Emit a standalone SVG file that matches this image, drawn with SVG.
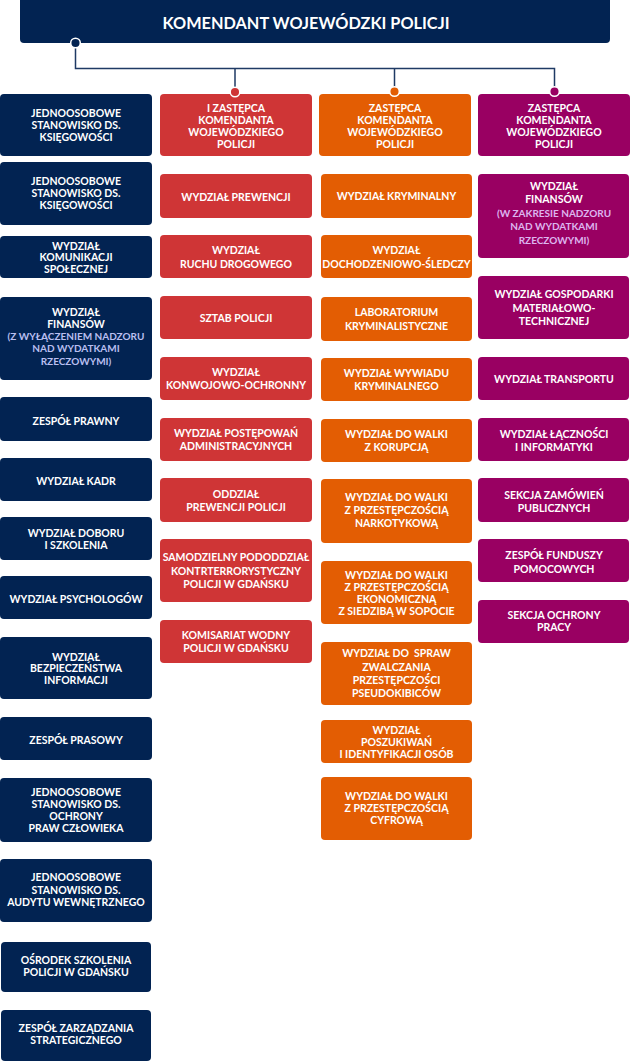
<svg xmlns="http://www.w3.org/2000/svg" width="630" height="1061" viewBox="0 0 630 1061">
<style>
text{font-family:Lato,"Open Sans","Liberation Sans",sans-serif;font-weight:bold;fill:#ffffff;text-anchor:middle;font-size:10.5px}
.title{font-size:16.3px}
.nv{fill:#022352}
.rd{fill:#cf3536}
.or{fill:#e35d03}
.pu{fill:#990062}
.ln{fill:#b9bff0;font-size:10px}
.lp{fill:#ddb5ef;font-size:10px}
.conn{fill:none;stroke:#1f3a64;stroke-width:1.5}
.dot{stroke:#ffffff;stroke-width:1.5}
</style>
<g id="top"><rect class="nv" x="20" y="-5" width="590" height="48" rx="4"/><text class="title" x="306" y="28.5">KOMENDANT WOJEWÓDZKI POLICJI</text></g>
<!-- column 1 -->
<g id="c1-1"><rect class="nv" x="0" y="94" width="152" height="62" rx="4"/><text><tspan x="76" y="116.8">JEDNOOSOBOWE</tspan><tspan x="76" y="128.8">STANOWISKO DS.</tspan><tspan x="76" y="140.8">KSIĘGOWOŚCI</tspan></text></g>
<g id="c1-2"><rect class="nv" x="0" y="162" width="152" height="63" rx="4"/><text><tspan x="76" y="184.8">JEDNOOSOBOWE</tspan><tspan x="76" y="196.8">STANOWISKO DS.</tspan><tspan x="76" y="208.8">KSIĘGOWOŚCI</tspan></text></g>
<g id="c1-3"><rect class="nv" x="0" y="236" width="152" height="42" rx="4"/><text><tspan x="76" y="249.5">WYDZIAŁ</tspan><tspan x="76" y="261.3">KOMUNIKACJI</tspan><tspan x="76" y="273">SPOŁECZNEJ</tspan></text></g>
<g id="c1-4"><rect class="nv" x="0" y="297" width="152" height="83" rx="4"/><text><tspan x="76" y="316">WYDZIAŁ</tspan><tspan x="76" y="328">FINANSÓW</tspan></text><text class="ln"><tspan x="76" y="340">(Z WYŁĄCZENIEM NADZORU</tspan><tspan x="76" y="352">NAD WYDATKAMI</tspan><tspan x="76" y="364.5">RZECZOWYMI)</tspan></text></g>
<g id="c1-5"><rect class="nv" x="0" y="397" width="152" height="44" rx="4"/><text x="76" y="424.5">ZESPÓŁ PRAWNY</text></g>
<g id="c1-6"><rect class="nv" x="0" y="458" width="152" height="43" rx="4"/><text x="76" y="484.8">WYDZIAŁ KADR</text></g>
<g id="c1-7"><rect class="nv" x="0" y="517" width="152" height="43" rx="4"/><text><tspan x="76" y="536.5">WYDZIAŁ DOBORU</tspan><tspan x="76" y="548.5">I SZKOLENIA</tspan></text></g>
<g id="c1-8"><rect class="nv" x="0" y="576" width="152" height="43" rx="4"/><text x="76" y="602.5">WYDZIAŁ PSYCHOLOGÓW</text></g>
<g id="c1-9"><rect class="nv" x="0" y="637" width="152" height="62" rx="4"/><text><tspan x="76" y="660.5">WYDZIAŁ</tspan><tspan x="76" y="672.3">BEZPIECZEŃSTWA</tspan><tspan x="76" y="684">INFORMACJI</tspan></text></g>
<g id="c1-10"><rect class="nv" x="0" y="717" width="152" height="43" rx="4"/><text x="76" y="743.8">ZESPÓŁ PRASOWY</text></g>
<g id="c1-11"><rect class="nv" x="0" y="778" width="152" height="64" rx="4"/><text><tspan x="76" y="795.5">JEDNOOSOBOWE</tspan><tspan x="76" y="807.8">STANOWISKO DS.</tspan><tspan x="76" y="819.8">OCHRONY</tspan><tspan x="76" y="832">PRAW CZŁOWIEKA</tspan></text></g>
<g id="c1-12"><rect class="nv" x="0" y="859" width="152" height="63" rx="4"/><text><tspan x="76" y="881">JEDNOOSOBOWE</tspan><tspan x="76" y="893.8">STANOWISKO DS.</tspan><tspan x="76" y="906">AUDYTU WEWNĘTRZNEGO</tspan></text></g>
<g id="c1-13"><rect class="nv" x="1" y="942" width="150" height="50" rx="4"/><text><tspan x="76" y="963.8">OŚRODEK SZKOLENIA</tspan><tspan x="76" y="975.5">POLICJI W GDAŃSKU</tspan></text></g>
<g id="c1-14"><rect class="nv" x="1" y="1010" width="150" height="51" rx="4"/><text><tspan x="76" y="1032">ZESPÓŁ ZARZĄDZANIA</tspan><tspan x="76" y="1043.8">STRATEGICZNEGO</tspan></text></g>
<!-- column 2 -->
<g id="c2-1"><rect class="rd" x="160" y="94" width="152" height="62" rx="4"/><text><tspan x="236" y="112">I ZASTĘPCA</tspan><tspan x="236" y="123.8">KOMENDANTA</tspan><tspan x="236" y="135.5">WOJEWÓDZKIEGO</tspan><tspan x="236" y="147.8">POLICJI</tspan></text></g>
<g id="c2-2"><rect class="rd" x="160" y="174" width="152" height="44" rx="4"/><text x="236" y="200.5">WYDZIAŁ PREWENCJI</text></g>
<g id="c2-3"><rect class="rd" x="160" y="235" width="152" height="43" rx="4"/><text><tspan x="236" y="253.8">WYDZIAŁ</tspan><tspan x="236" y="267.8">RUCHU DROGOWEGO</tspan></text></g>
<g id="c2-4"><rect class="rd" x="160" y="296" width="152" height="43" rx="4"/><text x="236" y="321.5">SZTAB POLICJI</text></g>
<g id="c2-5"><rect class="rd" x="160" y="357" width="152" height="43" rx="4"/><text><tspan x="236" y="375.5">WYDZIAŁ</tspan><tspan x="236" y="388.8">KONWOJOWO-OCHRONNY</tspan></text></g>
<g id="c2-6"><rect class="rd" x="160" y="418" width="152" height="43" rx="4"/><text><tspan x="236" y="436.5">WYDZIAŁ POSTĘPOWAŃ</tspan><tspan x="236" y="449.8">ADMINISTRACYJNYCH</tspan></text></g>
<g id="c2-7"><rect class="rd" x="160" y="478" width="152" height="44" rx="4"/><text><tspan x="236" y="497.8">ODDZIAŁ</tspan><tspan x="236" y="511">PREWENCJI POLICJI</tspan></text></g>
<g id="c2-8"><rect class="rd" x="160" y="539" width="152" height="63" rx="4"/><text><tspan x="236" y="561">SAMODZIELNY PODODDZIAŁ</tspan><tspan x="236" y="574.8">KONTRTERRORYSTYCZNY</tspan><tspan x="236" y="588">POLICJI W GDAŃSKU</tspan></text></g>
<g id="c2-9"><rect class="rd" x="160" y="620" width="152" height="43" rx="4"/><text><tspan x="236" y="638.8">KOMISARIAT WODNY</tspan><tspan x="236" y="652">POLICJI W GDAŃSKU</tspan></text></g>
<!-- column 3 -->
<g id="c3-1"><rect class="or" x="319" y="94" width="152" height="62" rx="4"/><text><tspan x="395" y="112">ZASTĘPCA</tspan><tspan x="395" y="123.8">KOMENDANTA</tspan><tspan x="395" y="135.5">WOJEWÓDZKIEGO</tspan><tspan x="395" y="147.8">POLICJI</tspan></text></g>
<g id="c3-2"><rect class="or" x="321" y="174" width="151" height="44" rx="4"/><text x="396.5" y="199.8">WYDZIAŁ KRYMINALNY</text></g>
<g id="c3-3"><rect class="or" x="321" y="235" width="151" height="43" rx="4"/><text><tspan x="396.5" y="253.8">WYDZIAŁ</tspan><tspan x="396.5" y="267.8">DOCHODZENIOWO-ŚLEDCZY</tspan></text></g>
<g id="c3-4"><rect class="or" x="321" y="297" width="151" height="44" rx="4"/><text><tspan x="396.5" y="316">LABORATORIUM</tspan><tspan x="396.5" y="329.5">KRYMINALISTYCZNE</tspan></text></g>
<g id="c3-5"><rect class="or" x="321" y="358" width="151" height="43" rx="4"/><text><tspan x="396.5" y="376.5">WYDZIAŁ WYWIADU</tspan><tspan x="396.5" y="389.8">KRYMINALNEGO</tspan></text></g>
<g id="c3-6"><rect class="or" x="321" y="419" width="151" height="43" rx="4"/><text><tspan x="396.5" y="437.5">WYDZIAŁ DO WALKI</tspan><tspan x="396.5" y="450.8">Z KORUPCJĄ</tspan></text></g>
<g id="c3-7"><rect class="or" x="321" y="479" width="151" height="64" rx="4"/><text><tspan x="396.5" y="500.5">WYDZIAŁ DO WALKI</tspan><tspan x="396.5" y="513.8">Z PRZESTĘPCZOŚCIĄ</tspan><tspan x="396.5" y="527">NARKOTYKOWĄ</tspan></text></g>
<g id="c3-8"><rect class="or" x="321" y="561" width="151" height="63" rx="4"/><text><tspan x="396.5" y="578.8">WYDZIAŁ DO WALKI</tspan><tspan x="396.5" y="591">Z PRZESTĘPCZOŚCIĄ</tspan><tspan x="396.5" y="603">EKONOMICZNĄ</tspan><tspan x="396.5" y="615">Z SIEDZIBĄ W SOPOCIE</tspan></text></g>
<g id="c3-9"><rect class="or" x="321" y="642" width="151" height="63" rx="4"/><text><tspan x="396.5" y="657" xml:space="preserve">WYDZIAŁ DO  SPRAW</tspan><tspan x="396.5" y="670.5">ZWALCZANIA</tspan><tspan x="396.5" y="683.8">PRZESTĘPCZOŚCI</tspan><tspan x="396.5" y="697">PSEUDOKIBICÓW</tspan></text></g>
<g id="c3-10"><rect class="or" x="321" y="720" width="151" height="43" rx="4"/><text><tspan x="396.5" y="733.8">WYDZIAŁ</tspan><tspan x="396.5" y="746">POSZUKIWAŃ</tspan><tspan x="396.5" y="758">I IDENTYFIKACJI OSÓB</tspan></text></g>
<g id="c3-11"><rect class="or" x="321" y="777" width="151" height="63" rx="4"/><text><tspan x="396.5" y="799.5">WYDZIAŁ DO WALKI</tspan><tspan x="396.5" y="812">Z PRZESTĘPCZOŚCIĄ</tspan><tspan x="396.5" y="823.8">CYFROWĄ</tspan></text></g>
<!-- column 4 -->
<g id="c4-1"><rect class="pu" x="478" y="94" width="152" height="62" rx="4"/><text><tspan x="554" y="112">ZASTĘPCA</tspan><tspan x="554" y="123.8">KOMENDANTA</tspan><tspan x="554" y="135.5">WOJEWÓDZKIEGO</tspan><tspan x="554" y="147.8">POLICJI</tspan></text></g>
<g id="c4-2"><rect class="pu" x="478" y="174" width="151" height="84" rx="4"/><text><tspan x="554" y="189.8">WYDZIAŁ</tspan><tspan x="554" y="203">FINANSÓW</tspan></text><text class="lp"><tspan x="554" y="216.5">(W ZAKRESIE NADZORU</tspan><tspan x="554" y="229.8">NAD WYDATKAMI</tspan><tspan x="554" y="243.8">RZECZOWYMI)</tspan></text></g>
<g id="c4-3"><rect class="pu" x="478" y="276" width="151" height="63" rx="4"/><text><tspan x="554" y="298">WYDZIAŁ GOSPODARKI</tspan><tspan x="554" y="311.5">MATERIAŁOWO-</tspan><tspan x="554" y="324.8">TECHNICZNEJ</tspan></text></g>
<g id="c4-4"><rect class="pu" x="478" y="357" width="151" height="43" rx="4"/><text x="554" y="382.5">WYDZIAŁ TRANSPORTU</text></g>
<g id="c4-5"><rect class="pu" x="478" y="418" width="151" height="43" rx="4"/><text><tspan x="554" y="437.5">WYDZIAŁ ŁĄCZNOŚCI</tspan><tspan x="554" y="450.8">I INFORMATYKI</tspan></text></g>
<g id="c4-6"><rect class="pu" x="478" y="478" width="151" height="44" rx="4"/><text><tspan x="554" y="498.5">SEKCJA ZAMÓWIEŃ</tspan><tspan x="554" y="511.8">PUBLICZNYCH</tspan></text></g>
<g id="c4-7"><rect class="pu" x="478" y="539" width="151" height="43" rx="4"/><text><tspan x="554" y="559">ZESPÓŁ FUNDUSZY</tspan><tspan x="554" y="572.5">POMOCOWYCH</tspan></text></g>
<g id="c4-8"><rect class="pu" x="478" y="600" width="151" height="43" rx="4"/><text><tspan x="554" y="618.5">SEKCJA OCHRONY</tspan><tspan x="554" y="630.8">PRACY</tspan></text></g>
<g id="connectors">
<path class="conn" d="M75.5 46V68.5H554.5V88M235 68.5V88M394.5 68.5V88"/>
<circle class="dot nv" cx="75.5" cy="43" r="4.8"/>
<circle class="dot rd" cx="235" cy="92" r="4.8"/>
<circle class="dot or" cx="394.5" cy="91.5" r="4.8"/>
<circle class="dot pu" cx="554.5" cy="91.5" r="4.8"/>
</g>
</svg>
